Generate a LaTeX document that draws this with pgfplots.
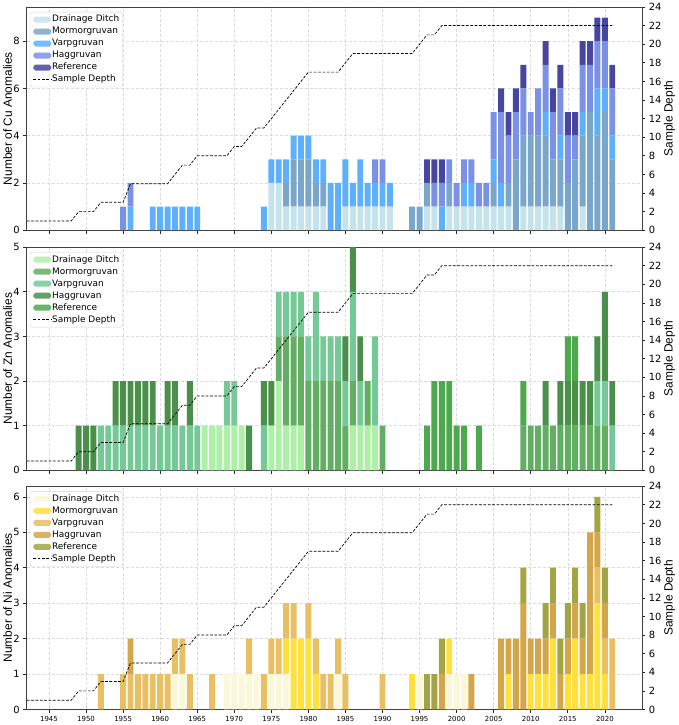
\documentclass[border=0pt]{standalone}
\usepackage{fontspec}
\setmainfont{DejaVu Sans}
\newfontfamily\labelfont{Liberation Sans}
\usepackage{pgfplots}
\usepackage{pgfplotstable}
\pgfplotsset{compat=1.18}

% Cu palette
\definecolor{cuDD}{HTML}{C5E3EC}
\definecolor{cuMO}{HTML}{7AA7C9}
\definecolor{cuVA}{HTML}{5FB0FC}
\definecolor{cuHA}{HTML}{7B91E6}
\definecolor{cuRE}{HTML}{4646A0}
% Zn palette
\definecolor{znDD}{HTML}{AEF0A8}
\definecolor{znMO}{HTML}{62AE62}
\definecolor{znVA}{HTML}{74C997}
\definecolor{znHA}{HTML}{4A904A}
\definecolor{znRE}{HTML}{4CAA4C}
% Ni palette
\definecolor{niDD}{HTML}{FAF8D8}
\definecolor{niMO}{HTML}{FFE03D}
\definecolor{niVA}{HTML}{E8BF62}
\definecolor{niHA}{HTML}{D4A64B}
\definecolor{niRE}{HTML}{A3A545}

% anomalies per year: drainage ditch, Mormorgruvan, Varpgruvan, Haggruvan, reference
\pgfplotstableread{
year dd mo va ha re
1955 0 0 0 1 0
1956 0 0 1 1 0
1959 0 0 1 0 0
1960 0 0 1 0 0
1961 0 0 1 0 0
1962 0 0 1 0 0
1963 0 0 1 0 0
1964 0 0 1 0 0
1965 0 0 1 0 0
1974 0 0 1 0 0
1975 2 0 1 0 0
1976 2 0 1 0 0
1977 1 1 1 0 0
1978 1 2 1 0 0
1979 1 2 1 0 0
1980 1 2 1 0 0
1981 1 1 1 0 0
1982 1 1 1 0 0
1983 0 0 2 0 0
1984 0 0 2 0 0
1985 1 0 2 0 0
1986 1 0 1 0 0
1987 1 0 2 0 0
1988 1 0 1 0 0
1989 1 0 1 1 0
1990 1 0 1 1 0
1991 1 0 1 0 0
1994 0 1 0 0 0
1995 0 1 0 0 0
1996 1 1 0 0 1
1997 1 0 0 1 1
1998 0 0 1 1 1
1999 1 1 0 1 0
2000 1 0 0 1 0
2001 1 0 1 1 0
2002 1 0 1 1 0
2003 1 0 0 1 0
2004 1 0 0 1 0
2005 1 1 1 2 0
2006 1 0 1 3 1
2007 1 1 0 2 1
2008 0 3 0 2 1
2009 1 3 0 2 1
2010 1 3 0 1 0
2011 1 3 0 2 0
2012 1 3 1 2 1
2013 1 2 0 2 1
2014 1 2 1 2 1
2015 0 2 0 2 1
2016 0 3 0 1 1
2017 1 3 1 2 1
2018 0 5 0 2 1
2019 0 4 2 2 1
2020 0 5 1 2 1
2021 0 3 1 2 1
}\cutable

\pgfplotstableread{
year dd mo va ha re
1949 0 0 0 1 0
1950 0 0 0 1 0
1951 0 0 0 1 0
1952 0 0 1 0 0
1953 0 0 1 0 0
1954 0 0 1 1 0
1955 0 0 1 1 0
1956 0 0 1 1 0
1957 0 0 1 1 0
1958 0 0 1 1 0
1959 0 0 1 1 0
1960 0 0 1 0 0
1961 0 0 1 1 0
1962 0 0 1 1 0
1963 0 0 1 0 0
1964 0 0 1 1 0
1965 0 0 1 0 0
1966 1 0 0 0 0
1967 1 0 0 0 0
1968 1 0 0 0 0
1969 1 0 1 0 0
1970 1 0 1 0 0
1971 1 0 0 0 0
1972 0 0 0 1 0
1974 0 0 1 1 0
1975 1 0 0 1 0
1976 2 1 1 0 0
1977 1 2 1 0 0
1978 1 2 1 0 0
1979 1 2 1 0 0
1980 0 2 1 0 0
1981 0 2 2 0 0
1982 0 2 1 0 0
1983 0 2 1 0 0
1984 0 2 1 0 0
1985 0 1 1 1 0
1986 1 1 2 1 0
1987 1 0 1 1 0
1988 1 1 0 0 0
1989 1 0 2 0 0
1990 0 1 0 0 0
1996 0 0 0 0 1
1997 0 0 0 0 2
1998 0 0 0 0 2
1999 0 0 0 0 2
2000 0 0 0 0 1
2001 0 0 0 0 1
2003 0 0 0 0 1
2009 0 1 0 0 1
2010 0 1 0 0 0
2011 0 1 0 0 0
2012 0 1 0 1 0
2013 0 1 0 0 0
2014 0 1 0 1 0
2015 0 1 0 1 1
2016 0 1 0 1 1
2017 0 1 0 1 0
2018 0 1 0 1 0
2019 0 1 1 1 0
2020 0 1 1 2 0
2021 0 0 1 1 0
}\zntable

\pgfplotstableread{
year dd mo va ha re
1952 0 0 1 0 0
1955 0 0 1 0 0
1956 0 0 1 1 0
1957 0 0 1 0 0
1958 0 0 1 0 0
1959 0 0 1 0 0
1960 0 0 1 0 0
1961 0 0 1 0 0
1962 1 0 1 0 0
1963 1 0 1 0 0
1964 0 0 1 0 0
1967 0 0 1 0 0
1969 1 0 0 0 0
1970 1 0 0 0 0
1971 1 0 0 0 0
1972 1 0 1 0 0
1973 1 0 0 0 0
1974 0 0 1 0 0
1975 1 0 1 0 0
1976 1 0 1 0 0
1977 1 1 1 0 0
1978 0 2 1 0 0
1979 0 2 0 0 0
1980 0 2 1 0 0
1981 0 1 1 0 0
1982 0 0 1 0 0
1983 0 0 1 0 0
1984 1 0 1 0 0
1985 0 0 1 0 0
1990 0 0 1 0 0
1994 0 1 0 0 0
1995 1 0 0 0 0
1996 0 0 0 0 1
1997 0 0 0 0 1
1998 0 0 0 1 1
1999 1 1 0 0 0
2000 1 0 0 0 0
2001 1 0 0 0 0
2002 0 0 0 1 0
2006 0 0 0 2 0
2007 0 1 0 1 0
2008 0 0 0 2 0
2009 0 0 0 3 1
2010 0 1 0 1 0
2011 0 1 0 1 0
2012 0 1 0 1 1
2013 0 2 0 1 1
2014 0 0 0 1 1
2015 0 1 0 1 1
2016 0 2 0 1 1
2017 0 1 0 1 1
2018 0 1 0 4 0
2019 0 3 1 1 1
2020 0 1 1 1 1
2021 0 0 2 0 0
}\nitable

% number of records covering each year
\pgfplotstableread{
year depth
1942 1
1943 1
1944 1
1945 1
1946 1
1947 1
1948 1
1949 2
1950 2
1951 2
1952 3
1953 3
1954 3
1955 3
1956 5
1957 5
1958 5
1959 5
1960 5
1961 5
1962 6
1963 7
1964 7
1965 8
1966 8
1967 8
1968 8
1969 8
1970 9
1971 9
1972 10
1973 11
1974 11
1975 12
1976 13
1977 14
1978 15
1979 16
1980 17
1981 17
1982 17
1983 17
1984 17
1985 18
1986 19
1987 19
1988 19
1989 19
1990 19
1991 19
1992 19
1993 19
1994 19
1995 20
1996 21
1997 21
1998 22
1999 22
2000 22
2001 22
2002 22
2003 22
2004 22
2005 22
2006 22
2007 22
2008 22
2009 22
2010 22
2011 22
2012 22
2013 22
2014 22
2015 22
2016 22
2017 22
2018 22
2019 22
2020 22
2021 22
}\depthtable

\pgfplotsset{
  /pgf/number format/assume math mode=true,
  /pgf/number format/1000 sep={},
  base/.style={
    width=620pt, height=225pt, scale only axis,
    xmin=1942, xmax=2025,
    xtick={1945,1950,...,2020},
    tick align=outside, major tick length=3.5pt,
    tick style={black!85, line width=0.7pt},
    axis line style={black!75, line width=0.8pt},
    yticklabel style={font=\fontsize{10}{12}\selectfont},
    xticklabel style={font=\fontsize{7}{8}\selectfont},
  },
  bars/.style={
    base, ybar stacked, bar width=0.8, ymin=0,
    tick pos=left,
    grid=major,
    grid style={black!14, line width=0.6pt, dash pattern=on 3pt off 2pt},
    ylabel style={font=\labelfont\fontsize{12}{14}\selectfont,
      at={(axis description cs:-0.031,0.5)}, anchor=center},
    legend cell align=left,
    legend style={at={(0.005,0.978)}, anchor=north west,
      draw=black!18, rounded corners=2pt, fill=white, fill opacity=0.85,
      text opacity=1, inner xsep=3pt, inner ysep=2.5pt,
      font=\fontsize{9}{10.5}\selectfont,
      nodes={inner sep=0.6pt, text height=6.8pt, text depth=2pt},
      row sep=2.1pt},
    legend image code/.code={\fill[##1] (0pt,-3pt) rectangle (18pt,3pt);},
  },
  depthaxis/.style={
    base, axis y line*=right, axis x line=none,
    ymin=0, ymax=24, ytick={0,2,...,24},
    ylabel=Sample Depth,
    ylabel style={font=\labelfont\fontsize{12}{14}\selectfont,
      at={(axis description cs:1.045,0.5)}, anchor=center},
  },
  seg/.style={fill=#1, draw=none},
  depthline/.style={black, line width=0.7pt, dash pattern=on 2.8pt off 1.6pt},
  depthlegend/.style={depthline,
    legend image code/.code={\draw[##1] (0pt,0pt) -- (18pt,0pt);}},
}

\newcommand\stackbars[2]{%
  \addplot[seg=#1DD] table[x=year,y=dd] {#2};
  \addplot[seg=#1MO] table[x=year,y=mo] {#2};
  \addplot[seg=#1VA] table[x=year,y=va] {#2};
  \addplot[seg=#1HA] table[x=year,y=ha] {#2};
  \addplot[seg=#1RE] table[x=year,y=re] {#2};
  \addlegendentry{Drainage Ditch}
  \addlegendentry{Mormorgruvan}
  \addlegendentry{Varpgruvan}
  \addlegendentry{Haggruvan}
  \addlegendentry{Reference}
  \addlegendimage{depthlegend}
  \addlegendentry{Sample Depth}
}

\begin{document}
\begin{tikzpicture}
% Cu
\begin{axis}[bars, at={(0,0)}, anchor=north west, ymax=9.45,
  ytick={0,2,4,6,8}, xticklabels={}, ylabel={Number of Cu Anomalies}]
  \stackbars{cu}{\cutable}
\end{axis}
\begin{axis}[depthaxis, at={(0,0)}, anchor=north west]
  \addplot[depthline] table[x=year,y=depth] {\depthtable};
\end{axis}
% Zn
\begin{axis}[bars, at={(0,-242pt)}, anchor=north west, ymax=5,
  ytick={0,1,...,5}, xticklabels={}, ylabel={Number of Zn Anomalies}]
  \stackbars{zn}{\zntable}
\end{axis}
\begin{axis}[depthaxis, at={(0,-242pt)}, anchor=north west]
  \addplot[depthline] table[x=year,y=depth] {\depthtable};
\end{axis}
% Ni
\begin{axis}[bars, at={(0,-483pt)}, anchor=north west, ymax=6.3,
  ytick={0,1,...,6}, ylabel={Number of Ni Anomalies}]
  \stackbars{ni}{\nitable}
\end{axis}
\begin{axis}[depthaxis, at={(0,-483pt)}, anchor=north west]
  \addplot[depthline] table[x=year,y=depth] {\depthtable};
\end{axis}
\end{tikzpicture}
\end{document}
